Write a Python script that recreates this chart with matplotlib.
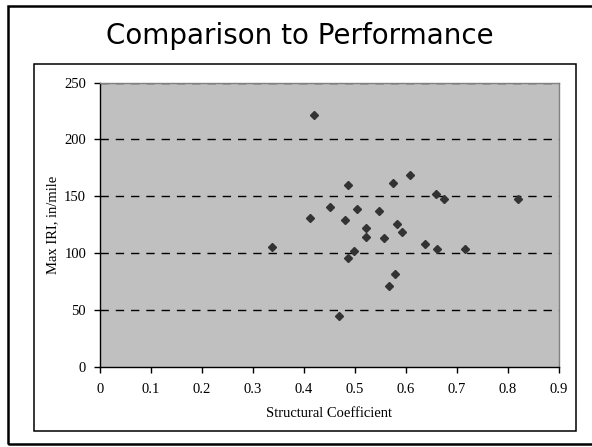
import matplotlib.pyplot as plt
from matplotlib.patches import Rectangle

# values
structural_coef = [0.337, 0.412, 0.419, 0.450, 0.469, 0.480, 0.486, 0.487, 0.498,
                   0.504, 0.522, 0.522, 0.548, 0.557, 0.566, 0.575, 0.578, 0.583,
                   0.593, 0.607, 0.637, 0.659, 0.660, 0.674, 0.715, 0.819]
max_iri = [105.6, 130.6, 221.6, 140.8, 44.9, 129.1, 95.7, 160.0, 102.1,
           138.8, 121.8, 113.9, 137.1, 113.0, 71.3, 161.7, 81.9, 125.4,
           118.6, 168.5, 108.3, 151.8, 103.6, 147.9, 103.6, 147.9]
x_ticks = [0, 0.1, 0.2, 0.3, 0.4, 0.5, 0.6, 0.7, 0.8, 0.9]
x_tick_labels = ['0', '0.1', '0.2', '0.3', '0.4', '0.5', '0.6', '0.7', '0.8', '0.9']
y_ticks = [0, 50, 100, 150, 200, 250]

W, H = 592, 447
fig = plt.figure(figsize=(W / 100, H / 100), dpi=100)

# slide border (right side runs off the picture) and chart area border
fig.patches.append(Rectangle((8 / W, 1 - 444 / H), 2.0, (444 - 6) / H,
                             transform=fig.transFigure, fill=False,
                             edgecolor='black', linewidth=1.8))
fig.patches.append(Rectangle((34 / W, 1 - 431 / H), (576 - 34) / W, (431 - 64) / H,
                             transform=fig.transFigure, fill=False,
                             edgecolor='black', linewidth=1.1))

fig.text(300 / W, 1 - 36 / H, 'Comparison to Performance', ha='center', va='center',
         fontsize=20, family='DejaVu Sans')

ax = fig.add_axes([100 / W, 1 - 366.7 / H, 459 / W, 284 / H])
ax.set_facecolor('#c0c0c0')
ax.set_xlim(0, 0.9)
ax.set_ylim(0, 250)

for val in y_ticks[1:]:
    ax.axhline(val, color='black', linestyle=(0, (6, 5)), linewidth=1.0, zorder=1)

ax.plot(structural_coef, max_iri, linestyle='none', marker='D', markersize=4.2,
        color='#333333', zorder=3)

for side in ['left', 'bottom']:
    ax.spines[side].set_color('black')
    ax.spines[side].set_linewidth(1.0)
for side in ['top', 'right']:
    ax.spines[side].set_color('#808080')
    ax.spines[side].set_linewidth(1.0)

ax.set_xticks(x_ticks)
ax.set_xticklabels(x_tick_labels)
ax.set_yticks(y_ticks)
ax.tick_params(axis='both', direction='out', length=4, width=1.0, color='black',
               labelsize=10.5)
ax.tick_params(axis='x', pad=8)
ax.tick_params(axis='y', pad=6)
for lbl in ax.get_xticklabels() + ax.get_yticklabels():
    lbl.set_family('Liberation Serif')

ax.set_xlabel('Structural Coefficient', family='Liberation Serif', fontsize=10.5)
ax.set_ylabel('Max IRI, in/mile', family='Liberation Serif', fontsize=10.5)
ax.xaxis.set_label_coords(0.499, -0.142)
ax.yaxis.set_label_coords(-0.09, 0.5)

fig.savefig('out.png', dpi=100)
